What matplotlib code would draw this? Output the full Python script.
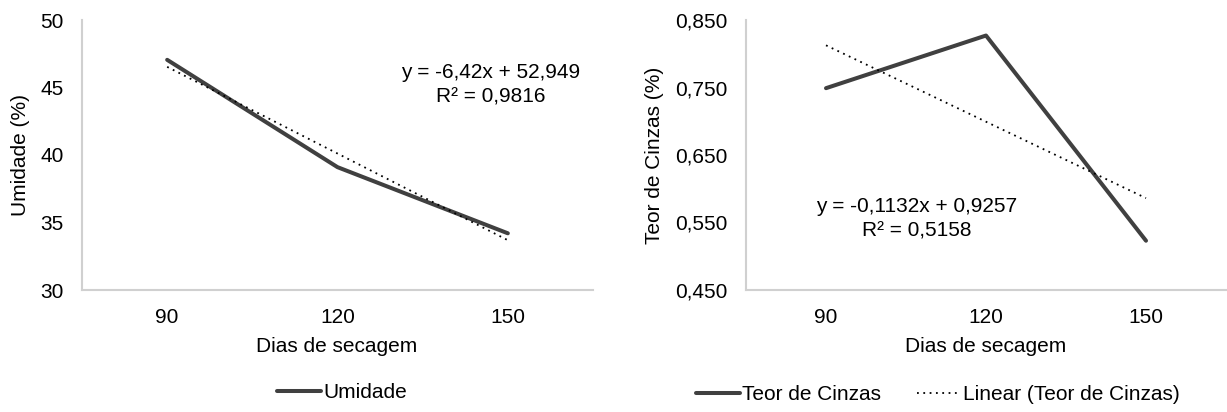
import matplotlib
matplotlib.use("Agg")
import matplotlib.pyplot as plt
import numpy as np

plt.rcParams['font.family'] = ['Liberation Sans', 'DejaVu Sans']

# data
dias = ['90', '120', '150']
umidade = [47.05, 39.1, 34.2]
cinzas = [0.749, 0.827, 0.523]

# trend coefficients printed on the chart (x = 1, 2, 3)
umid_a, umid_b = -6.42, 52.949
cinz_a, cinz_b = -0.1132, 0.9257
umid_eq = ['y = -6,42x + 52,949', 'R² = 0,9816']
cinz_eq = ['y = -0,1132x + 0,9257', 'R² = 0,5158']

umid_ticks = [30, 35, 40, 45, 50]
cinz_ticks = [0.45, 0.55, 0.65, 0.75, 0.85]

LINE = '#404040'
SPINE = '#d0d0d0'
FS = 15

W, H = 1227, 412
fig = plt.figure(figsize=(W / 100, H / 100), dpi=100)


def style_axes(ax):
    for s in ['top', 'right']:
        ax.spines[s].set_visible(False)
    for s in ['left', 'bottom']:
        ax.spines[s].set_color(SPINE)
        ax.spines[s].set_linewidth(1.5)
    ax.tick_params(length=0, labelsize=FS, pad=13)
    ax.set_xlim(-0.5, 2.5)
    ax.set_xticks(range(len(dias)))
    ax.set_xticklabels(dias)


x = np.arange(len(dias))
xt = x + 1

# left: Umidade
ax1 = fig.add_axes([82 / W, 1 - 290 / H, (593 - 82) / W, 270 / H])
style_axes(ax1)
l1, = ax1.plot(x, umidade, color=LINE, lw=2.9, solid_capstyle='round', label='Umidade')
ax1.plot(x, umid_a * xt + umid_b, color='black', lw=1.3, ls=(0, (1, 2.5)))
ax1.set_ylim(30, 50)
ax1.set_yticks(umid_ticks)
ax1.set_yticklabels([str(v) for v in umid_ticks])
ax1.text(491 / W, 1 - 72 / H, umid_eq[0], transform=fig.transFigure, ha='center', va='center', fontsize=FS)
ax1.text(491 / W, 1 - 97 / H, umid_eq[1], transform=fig.transFigure, ha='center', va='center', fontsize=FS)
fig.text(21 / W, 1 - 155 / H, 'Umidade (%)', rotation=90, ha='center', va='center', fontsize=FS)
fig.text(337 / W, 1 - 347 / H, 'Dias de secagem', ha='center', va='center', fontsize=FS)
fig.legend(handles=[l1], loc='center', bbox_to_anchor=(342 / W, 1 - 393 / H), frameon=False,
           fontsize=FS, handlelength=2.1, handletextpad=0.1)

# right: Teor de Cinzas
ax2 = fig.add_axes([746 / W, 1 - 290 / H, (1226 - 746) / W, 270 / H])
style_axes(ax2)
l2, = ax2.plot(x, cinzas, color=LINE, lw=2.9, solid_capstyle='round', label='Teor de Cinzas')
l3, = ax2.plot(x, cinz_a * xt + cinz_b, color='black', lw=1.3, ls=(0, (1, 2.5)),
               label='Linear (Teor de Cinzas)')
ax2.set_ylim(0.45, 0.85)
ax2.set_yticks(cinz_ticks)
ax2.set_yticklabels([f'{v:.3f}'.replace('.', ',') for v in cinz_ticks])
ax2.text(917 / W, 1 - 207 / H, cinz_eq[0], transform=fig.transFigure, ha='center', va='center', fontsize=FS)
ax2.text(917 / W, 1 - 231 / H, cinz_eq[1], transform=fig.transFigure, ha='center', va='center', fontsize=FS)
fig.text(654 / W, 1 - 155 / H, 'Teor de Cinzas (%)', rotation=90, ha='center', va='center', fontsize=FS)
fig.text(986 / W, 1 - 347 / H, 'Dias de secagem', ha='center', va='center', fontsize=FS)
fig.legend(handles=[l2, l3], loc='center', bbox_to_anchor=(938 / W, 1 - 395 / H), frameon=False,
           fontsize=FS, ncol=2, handlelength=2.1, handletextpad=0.1, columnspacing=1.75)

fig.savefig('out.png', dpi=100)
